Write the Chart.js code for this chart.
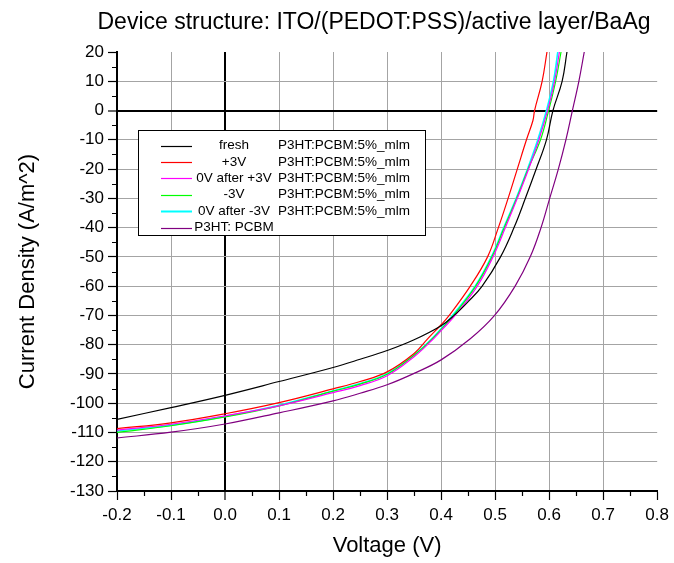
<!DOCTYPE html>
<html>
<head>
<meta charset="utf-8">
<script src="https://cdn.jsdelivr.net/npm/chart.js@4.4.0/dist/chart.umd.min.js"></script>
<style>
  html, body { margin: 0; padding: 0; background: #fff; }
</style>
</head>
<body>
<canvas id="graficaJV" width="674" height="563"></canvas>
<script>
// Curvas J-V, valores
const freshV = [-0.2, -0.1, 0.0, 0.1, 0.2, 0.25, 0.3, 0.35, 0.4, 0.424, 0.45, 0.476, 0.51, 0.535, 0.556, 0.576, 0.595, 0.607, 0.624, 0.633];
const freshJ = [-105.5, -101.5, -97.3, -92.6, -87.8, -85.0, -82.0, -78.3, -73.5, -70, -65.3, -60, -50, -40, -30, -20, -10, 0, 10, 20];

const plus3V = [-0.2, -0.1, 0.0, 0.1, 0.2, 0.25, 0.3, 0.35, 0.375, 0.4, 0.415, 0.454, 0.486, 0.506, 0.524, 0.541, 0.558, 0.570, 0.573, 0.587, 0.596];
const plus3J = [-108.7, -106.7, -103.6, -99.8, -95.1, -92.6, -89.3, -83.0, -78, -73.2, -70, -60, -50, -40, -30, -20, -10, -3.4, 0, 10, 20];

const after3V = [-0.2, -0.1, 0.0, 0.1, 0.2, 0.25, 0.3, 0.35, 0.383, 0.4, 0.426, 0.467, 0.496, 0.519, 0.541, 0.562, 0.581, 0.597, 0.610, 0.619];
const after3J = [-109.2, -107.2, -104.3, -100.9, -96.4, -94.0, -90.6, -84.1, -78.5, -75.2, -70, -60, -50, -40, -30, -20, -10, 0, 10, 20];

const minus3V = [-0.2, -0.1, 0.0, 0.1, 0.2, 0.25, 0.3, 0.35, 0.381, 0.4, 0.423, 0.464, 0.494, 0.517, 0.540, 0.561, 0.584, 0.599, 0.612, 0.622];
const minus3J = [-110.0, -107.7, -104.7, -100.9, -95.9, -93.5, -90.1, -83.6, -78.5, -74.8, -70, -60, -50, -40, -30, -20, -10, 0, 10, 20];

const afterMinus3V = [-0.2, -0.1, 0.0, 0.1, 0.2, 0.25, 0.3, 0.35, 0.38, 0.4, 0.421, 0.463, 0.493, 0.516, 0.539, 0.560, 0.579, 0.595, 0.608, 0.616];
const afterMinus3J = [-109.5, -107.5, -104.5, -100.7, -95.8, -93.3, -89.9, -83.5, -78.5, -74.6, -70, -60, -50, -40, -30, -20, -10, 0, 10, 20];

const refV = [-0.2, -0.1, 0.0, 0.1, 0.2, 0.25, 0.3, 0.35, 0.4, 0.454, 0.499, 0.537, 0.565, 0.585, 0.601, 0.617, 0.631, 0.643, 0.655, 0.665];
const refJ = [-111.9, -109.9, -107.1, -103.3, -99.2, -96.6, -93.7, -89.8, -85.2, -78, -70, -60, -50, -40, -30, -20, -10, 0, 10, 20];

const nombres = ['fresh', '+3V', '0V after +3V', '-3V', '0V after -3V', 'P3HT: PCBM'];
const mezclas = ['P3HT:PCBM:5%_mlm', 'P3HT:PCBM:5%_mlm', 'P3HT:PCBM:5%_mlm', 'P3HT:PCBM:5%_mlm', 'P3HT:PCBM:5%_mlm', ''];
const colores = ['#000000', '#ff0000', '#ff00ff', '#00ff00', '#00ffff', '#800080'];

const FUENTE = '"Liberation Sans", Arial, sans-serif';

function puntos(xs, ys) {
  return xs.map((x, i) => ({ x, y: ys[i] }));
}

function serie(i, xs, ys, ancho) {
  return {
    label: nombres[i] + ' ' + mezclas[i],
    data: puntos(xs, ys),
    borderColor: colores[i],
    backgroundColor: colores[i],
    borderWidth: ancho || 1.2,
    pointRadius: 0,
    tension: 0.4,
    fill: false
  };
}

// título, leyenda y marcas menores
const extras = {
  id: 'extras',
  afterDatasetsDraw(chart) {
    const c = chart.ctx;
    const area = chart.chartArea;
    const sx = chart.scales.x, sy = chart.scales.y;
    c.save();

    // marcas menores
    c.strokeStyle = '#000';
    c.lineWidth = 1.2;
    c.beginPath();
    for (let v = -125; v < 20; v += 10) {
      const y = Math.round(sy.getPixelForValue(v)) + 0.5;
      c.moveTo(area.left - 5, y); c.lineTo(area.left, y);
    }
    for (let k = 0; k < 10; k++) {
      const x = Math.round(sx.getPixelForValue(-0.15 + k * 0.1)) + 0.5;
      c.moveTo(x, area.bottom); c.lineTo(x, area.bottom + 5);
    }
    c.stroke();

    // título
    c.fillStyle = '#000';
    c.font = '23px ' + FUENTE;
    c.textAlign = 'center';
    c.textBaseline = 'middle';
    c.fillText('Device structure: ITO/(PEDOT:PSS)/active layer/BaAg', 374, 23);

    // leyenda
    const bx = 138, by = 130, bw = 287, bh = 105;
    c.fillStyle = '#fff';
    c.fillRect(bx, by, bw, bh);
    c.strokeStyle = '#000';
    c.lineWidth = 1;
    c.strokeRect(bx + 0.5, by + 0.5, bw, bh);
    c.font = '13.5px ' + FUENTE;
    chart.data.datasets.forEach((ds, i) => {
      const y = 145.5 + i * 16.4;
      c.strokeStyle = ds.borderColor;
      c.lineWidth = i === 4 ? 2 : 1.2;
      c.beginPath();
      c.moveTo(161, Math.round(y) + 0.5); c.lineTo(192, Math.round(y) + 0.5);
      c.stroke();
      c.fillStyle = '#000';
      c.textAlign = 'center';
      c.fillText(nombres[i], 234, y);
      c.textAlign = 'left';
      c.fillText(mezclas[i], 278, y);
    });
    c.restore();
  }
};

function colorRejilla(ctx, fin) {
  const v = ctx.tick.value;
  if (Math.abs(v) < 1e-9) return '#000';
  if (Math.abs(v - fin) < 1e-9) return 'rgba(0,0,0,0)';
  return '#a4a4a4';
}

new Chart(document.getElementById('graficaJV').getContext('2d'), {
  type: 'line',
  data: {
    datasets: [
      serie(0, freshV, freshJ),
      serie(1, plus3V, plus3J),
      serie(2, after3V, after3J),
      serie(3, minus3V, minus3J),
      serie(4, afterMinus3V, afterMinus3J, 1.6),
      serie(5, refV, refJ)
    ]
  },
  options: {
    responsive: false,
    animation: false,
    layout: { padding: { top: 52, right: 13, bottom: 0, left: 11 } },
    plugins: {
      legend: { display: false },
      tooltip: { enabled: false }
    },
    scales: {
      x: {
        type: 'linear',
        min: -0.2,
        max: 0.8,
        ticks: {
          stepSize: 0.1,
          color: '#000',
          font: { family: FUENTE, size: 17 },
          padding: 5,
          maxRotation: 0,
          autoSkip: false,
          callback: v => v.toFixed(1)
        },
        grid: {
          color: ctx => colorRejilla(ctx, 0.8),
          lineWidth: ctx => Math.abs(ctx.tick.value) < 1e-9 ? 2 : 1,
          tickColor: '#000',
          tickLength: 9,
          tickWidth: 1.2
        },
        border: { color: '#000', width: 2 },
        title: {
          display: true,
          text: 'Voltage (V)',
          color: '#000',
          font: { family: FUENTE, size: 22 }
        },
        afterFit: s => { s.height = 72; }
      },
      y: {
        type: 'linear',
        min: -130,
        max: 20,
        ticks: {
          stepSize: 10,
          color: '#000',
          font: { family: FUENTE, size: 17 },
          padding: 4
        },
        grid: {
          color: ctx => colorRejilla(ctx, 20),
          lineWidth: ctx => Math.abs(ctx.tick.value) < 1e-9 ? 2 : 1,
          tickColor: '#000',
          tickLength: 9,
          tickWidth: 1.2
        },
        border: { color: '#000', width: 2 },
        title: {
          display: true,
          text: 'Current Density (A/m^2)',
          color: '#000',
          font: { family: FUENTE, size: 22 }
        },
        afterFit: s => { s.width = 106; }
      }
    }
  },
  plugins: [extras]
});
</script>
</body>
</html>
